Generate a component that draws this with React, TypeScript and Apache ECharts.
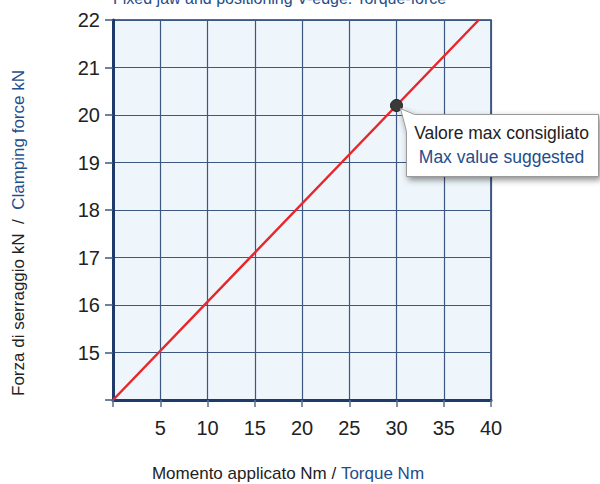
import React, { useEffect, useRef } from "react";
import * as echarts from "echarts";

const torque = [0, 30, 38.7];
const force = [14, 20.2, 22];
const xTicks = [0, 5, 10, 15, 20, 25, 30, 35, 40];
const yTicks = [14, 15, 16, 17, 18, 19, 20, 21, 22];
const maxPoint = [30, 20.2];

const NAVY = "#1d3a6b";
const BLUE = "#1f4e8c";
const FONT = "Liberation Sans, Arial, sans-serif";

export default function App() {
  const ref = useRef<HTMLDivElement>(null);
  useEffect(() => {
    if (!ref.current) return;
    document.body.style.margin = "0";
    const chart = echarts.init(ref.current, null, { renderer: "svg" });
    const data = torque.map((t, i) => ({
      value: [t, force[i]],
      symbol: t === maxPoint[0] ? "circle" : "none",
      symbolSize: 12,
    }));
    chart.setOption({
      animation: false,
      grid: {
        left: 113,
        right: 109,
        top: 20,
        bottom: 84,
        show: true,
        backgroundColor: "#eef6fb",
        borderColor: NAVY,
        borderWidth: 1.5,
      },
      xAxis: {
        type: "value",
        min: xTicks[0],
        max: xTicks[xTicks.length - 1],
        interval: 5,
        axisLine: { show: true, lineStyle: { color: NAVY, width: 3 } },
        axisTick: { show: true, length: 7, lineStyle: { color: "#5a6f92", width: 1.5 } },
        splitLine: { show: true, lineStyle: { color: "#3d5783", width: 1.2 } },
        axisLabel: {
          margin: 18,
          fontSize: 20,
          color: "#222",
          fontFamily: FONT,
          formatter: (v: number) => (v === xTicks[0] ? "" : String(v)),
        },
      },
      yAxis: {
        type: "value",
        min: yTicks[0],
        max: yTicks[yTicks.length - 1],
        interval: 1,
        axisLine: { show: true, lineStyle: { color: NAVY, width: 3 } },
        axisTick: { show: true, length: 8, lineStyle: { color: "#3d5783", width: 1.5 } },
        splitLine: { show: true, lineStyle: { color: "#3d5783", width: 1.2 } },
        axisLabel: {
          margin: 13,
          fontSize: 20,
          color: "#222",
          fontFamily: FONT,
          formatter: (v: number) => (v === yTicks[0] ? "" : String(v)),
        },
      },
      series: [
        {
          type: "line",
          data,
          lineStyle: { color: "#e8262b", width: 2.5 },
          itemStyle: { color: "#3a3a3a", borderColor: "#222", borderWidth: 1 },
          z: 3,
        },
      ],
    });

    const p = chart.convertToPixel({ gridIndex: 0 }, maxPoint) as number[];
    const tipX = p[0] + 4;
    const tipY = p[1] + 3;
    const bx = p[0] + 10;
    const by = p[1] + 9;
    const bw = 192;
    const bh = 62;
    chart.setOption({
      graphic: [
        {
          type: "text",
          left: 113,
          top: -10,
          style: {
            text: "Fixed jaw and positioning V-edge: Torque-force",
            fontSize: 16,
            fill: BLUE,
            fontFamily: FONT,
          },
        },
        {
          type: "polygon",
          shape: {
            points: [
              [tipX, tipY],
              [bx + 8, by],
              [bx + bw, by],
              [bx + bw, by + bh],
              [bx, by + bh],
              [bx, by + 17],
            ],
          },
          style: {
            fill: "#fff",
            stroke: "#9a9a9a",
            lineWidth: 1,
            shadowBlur: 6,
            shadowOffsetX: 2,
            shadowOffsetY: 3,
            shadowColor: "rgba(0,0,0,0.45)",
          },
          z: 10,
        },
        {
          type: "text",
          x: bx + bw / 2 - 1,
          y: by + 6,
          z: 11,
          style: {
            text: "{a|Valore max consigliato}\n{b|Max value suggested}",
            align: "center",
            fontFamily: FONT,
            rich: {
              a: { fontSize: 17.5, fill: "#222", lineHeight: 24, fontFamily: FONT },
              b: { fontSize: 17.5, fill: BLUE, lineHeight: 24, fontFamily: FONT },
            },
          },
        },
        {
          type: "text",
          x: 288,
          y: 465,
          style: {
            text: "{a|Momento applicato Nm / }{b|Torque Nm}",
            align: "center",
            fontFamily: FONT,
            rich: {
              a: { fontSize: 17, fill: "#222", fontFamily: FONT },
              b: { fontSize: 17, fill: BLUE, fontFamily: FONT },
            },
          },
        },
        {
          type: "text",
          x: 10,
          y: 233,
          rotation: Math.PI / 2,
          style: {
            text: "{a|Forza di serraggio kN  /  }{b|Clamping force kN}",
            align: "center",
            fontFamily: FONT,
            rich: {
              a: { fontSize: 17, fill: "#222", fontFamily: FONT },
              b: { fontSize: 17, fill: BLUE, fontFamily: FONT },
            },
          },
        },
      ],
    });
    return () => chart.dispose();
  }, []);
  return <div ref={ref} style={{ width: 600, height: 484 }} />;
}
